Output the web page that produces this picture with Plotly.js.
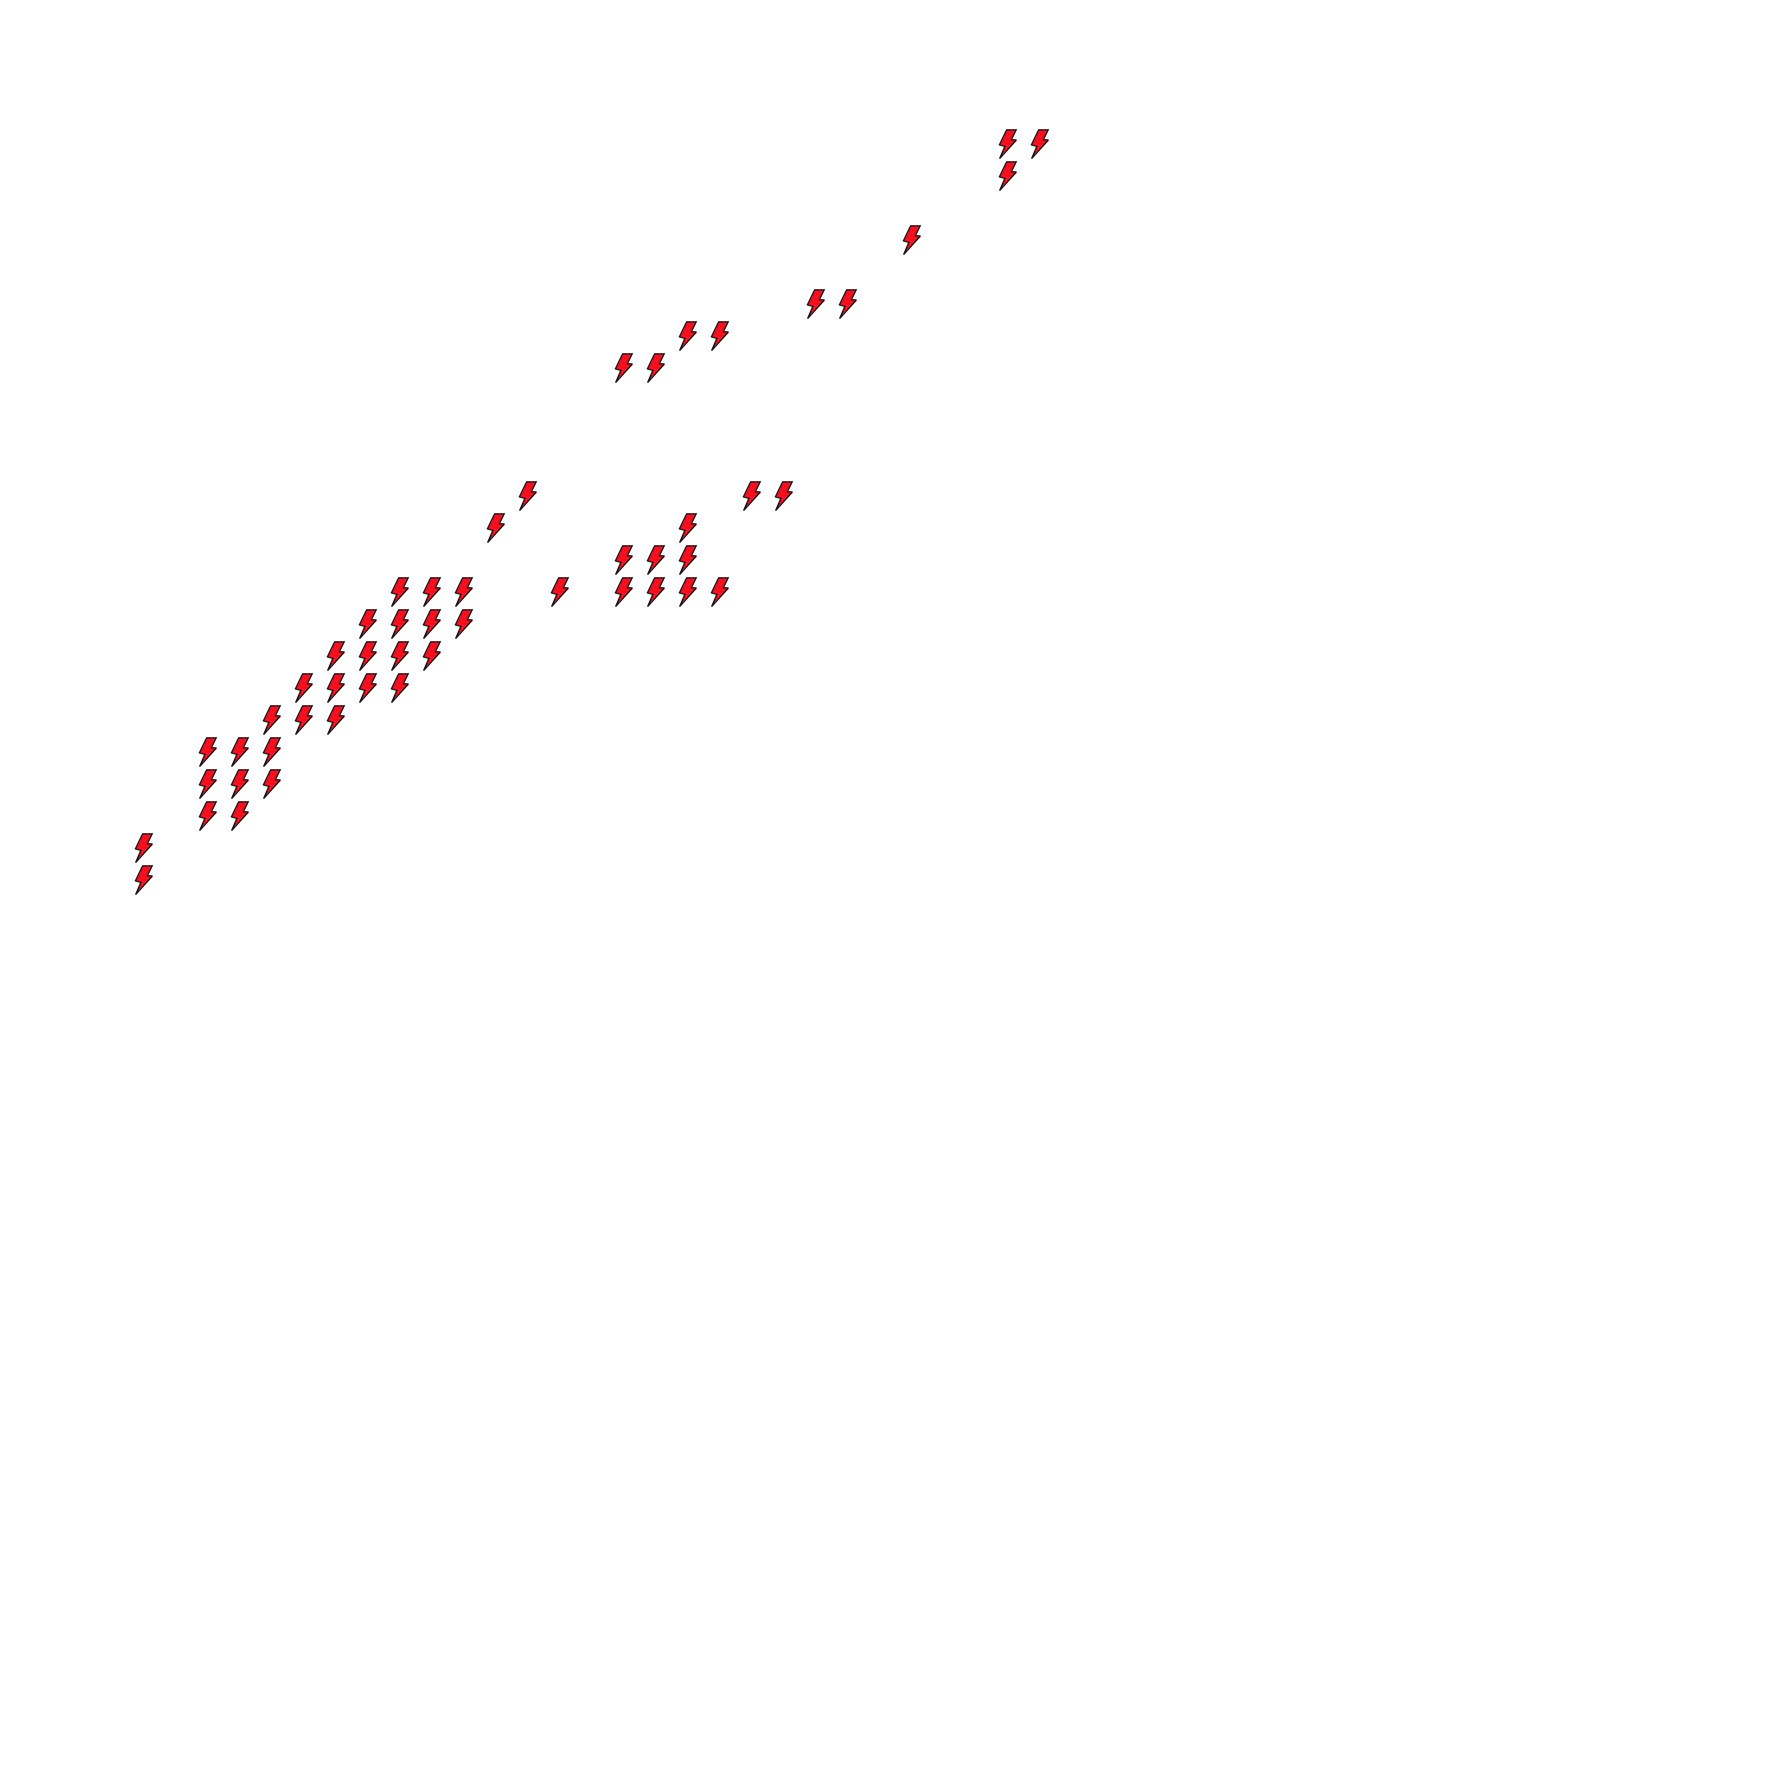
<!DOCTYPE html>
<html>
<head>
<meta charset="utf-8">
<script src="https://cdn.plot.ly/plotly-3.0.1.min.js"></script>
<style>html,body{margin:0;padding:0;background:#fff}#chart{width:1792px;height:1792px}</style>
</head>
<body>
<div id="chart"></div>
<script>
// One list of column positions per row value
var rowValues = [51, 50, 48, 46, 45, 44, 40, 39, 38, 37, 36, 35, 34, 33, 32, 31, 30, 29, 28];
var rowColumns = [
  [31, 32],
  [31],
  [28],
  [25, 26],
  [21, 22],
  [19, 20],
  [16, 23, 24],
  [15, 21],
  [19, 20, 21],
  [12, 13, 14, 17, 19, 20, 21, 22],
  [11, 12, 13, 14],
  [10, 11, 12, 13],
  [9, 10, 11, 12],
  [8, 9, 10],
  [6, 7, 8],
  [6, 7, 8],
  [6, 7],
  [4],
  [4]
];
var xs = [], ys = [];
rowValues.forEach(function (y, i) {
  rowColumns[i].forEach(function (x) { xs.push(x); ys.push(y); });
});

// Lightning-bolt glyph replacing the marker outline (relative to each point)
var boltPath = 'M-1.4,-14.2L8.2,-14.2L3.4,-4.4L8.4,-4L-8.4,14.6L-3.2,2.4L-8.6,0.8Z';

Plotly.newPlot('chart', [{
  type: 'scatter',
  mode: 'markers',
  x: xs,
  y: ys,
  marker: { symbol: 'circle', size: 20, color: '#f5101f', line: { color: '#111111', width: 1.3 } },
  hoverinfo: 'x+y'
}], {
  width: 1792,
  height: 1792,
  margin: { l: 0, r: 0, t: 0, b: 0, pad: 0 },
  paper_bgcolor: '#ffffff',
  plot_bgcolor: '#ffffff',
  showlegend: false,
  xaxis: { range: [-0.5, 55.5], visible: false, fixedrange: true },
  yaxis: { range: [-0.5, 55.5], visible: false, fixedrange: true }
}, { displayModeBar: false, responsive: false }).then(function (gd) {
  gd.querySelectorAll('.scatterlayer path.point').forEach(function (p) {
    p.setAttribute('d', boltPath);
  });
});
</script>
</body>
</html>
